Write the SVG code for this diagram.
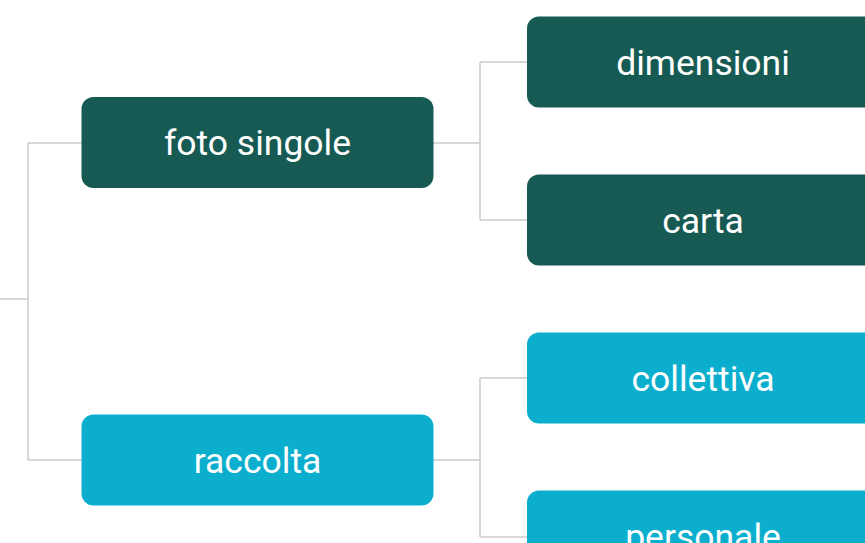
<svg xmlns="http://www.w3.org/2000/svg" width="865" height="543" viewBox="0 0 865 543">
<style>
.dark{fill:#165a53}
.cyan{fill:#0bafcd}
.t{font-family:Roboto,"Liberation Sans",sans-serif;font-size:35.5px;fill:#ffffff;text-anchor:middle}
.c{fill:none;stroke:#cccccc;stroke-width:1.5}
</style>
<rect width="865" height="543" fill="#ffffff"/>
<g id="connectors">
<path class="c" d="M0 299H28M28 143V460M28 143H82M28 460H82"/>
<path class="c" d="M433 143H480M480 62V220M480 62H528M480 220H528"/>
<path class="c" d="M433 460H480M480 378V537M480 378H528M480 537H528"/>
</g>
<g id="foto-singole"><rect class="dark" x="81.5" y="97" width="352" height="91" rx="12"/><text class="t" x="257.5" y="155">foto singole</text></g>
<g id="raccolta"><rect class="cyan" x="81.5" y="414.5" width="352" height="91" rx="12"/><text class="t" x="257.5" y="472.5">raccolta</text></g>
<g id="dimensioni"><rect class="dark" x="527" y="16.5" width="352" height="91" rx="12"/><text class="t" x="703" y="74.5">dimensioni</text></g>
<g id="carta"><rect class="dark" x="527" y="174.5" width="352" height="91" rx="12"/><text class="t" x="703" y="232.5">carta</text></g>
<g id="collettiva"><rect class="cyan" x="527" y="332.5" width="352" height="91" rx="12"/><text class="t" x="703" y="390.5">collettiva</text></g>
<g id="personale"><rect class="cyan" x="527" y="490.5" width="352" height="91" rx="12"/><text class="t" x="703" y="548.5">personale</text></g>
</svg>
